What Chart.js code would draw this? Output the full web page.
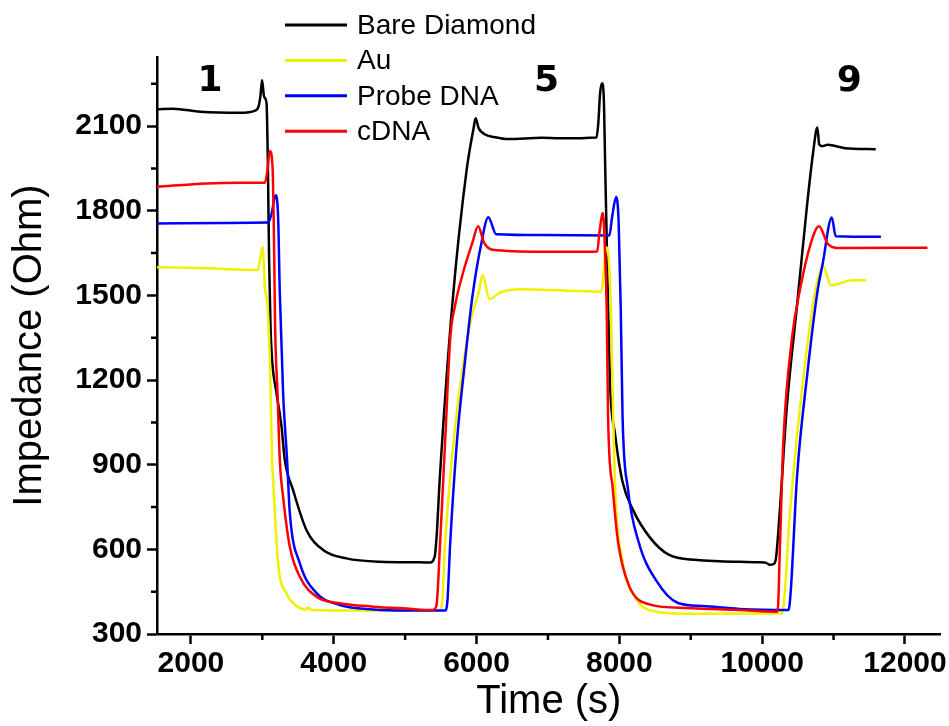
<!DOCTYPE html>
<html>
<head>
<meta charset="utf-8">
<script src="https://cdn.jsdelivr.net/npm/chart.js@4.4.1/dist/chart.umd.min.js"></script>
<style>
  html, body { margin: 0; padding: 0; background: #fff; }
  #wrap { width: 949px; height: 726px; }
</style>
</head>
<body>
<div id="wrap"><canvas id="impChart" width="949" height="726"></canvas></div>
<script>
// ========== DATA ==========

const xTicks = [2000, 4000, 6000, 8000, 10000, 12000];
const xMinorTicks = [3000, 5000, 7000, 9000, 11000];
const yTicks = [300, 600, 900, 1200, 1500, 1800, 2100];
const yMinorTicks = [450, 750, 1050, 1350, 1650, 1950, 2250];

const seriesNames = ['Bare Diamond', 'Au', 'Probe DNA', 'cDNA'];

// Bare Diamond
const bareX = [1525, 1750, 2130, 2690, 2900, 2950, 2975, 2997, 3025, 3059, 3077, 3095, 3115, 3137, 3199, 3269, 3315, 3431, 3619, 3851, 4178, 4644, 5204, 5344, 5414, 5442, 5484, 5666, 5861, 5959, 5987, 6029, 6113, 6253, 6440, 6916, 7162, 7680, 7705, 7730, 7757, 7782, 7802, 7833, 7868, 7942, 8042, 8192, 8441, 8691, 9091, 9401, 9960, 10058, 10104, 10160, 10194, 10247, 10344, 10488, 10632, 10716, 10772, 10800, 10847, 10919, 11158, 11590];
const bareY = [2160, 2162, 2151, 2147, 2155, 2172, 2210, 2263, 2204, 2181, 1979, 1625, 1389, 1271, 1153, 1035, 916, 810, 668, 598, 568, 556, 554, 553, 574, 650, 846, 1483, 1944, 2093, 2128, 2093, 2071, 2061, 2054, 2059, 2057, 2060, 2110, 2215, 2252, 2200, 1955, 1575, 1196, 1005, 842, 739, 638, 581, 562, 558, 554, 552, 545, 548, 570, 736, 1100, 1464, 1828, 2011, 2095, 2035, 2029, 2034, 2022, 2018];

// Au
const auX = [1525, 2126, 2937, 2965, 3003, 3035, 3077, 3105, 3137, 3151, 3221, 3339, 3479, 3619, 3641, 3689, 4550, 5460, 5512, 5561, 5680, 5798, 5917, 6036, 6085, 6179, 6345, 6631, 6916, 7746, 7780, 7812, 7843, 7882, 7903, 7942, 8042, 8239, 8542, 8939, 10270, 10300, 10391, 10583, 10751, 10858, 10963, 11261, 11453];
const auY = [1600, 1597, 1590, 1620, 1672, 1530, 1448, 1270, 916, 846, 551, 444, 399, 387, 394, 385, 383, 383, 400, 626, 987, 1228, 1409, 1517, 1572, 1487, 1512, 1522, 1520, 1513, 1580, 1672, 1650, 1448, 1196, 815, 562, 424, 378, 372, 373, 400, 736, 1221, 1526, 1601, 1536, 1554, 1554];

// Probe DNA
const probeX = [1525, 2500, 3081, 3130, 3185, 3221, 3245, 3291, 3347, 3385, 3525, 3759, 4085, 4550, 5018, 5560, 5590, 5632, 5727, 5822, 5941, 6060, 6165, 6274, 6916, 7860, 7900, 7955, 7990, 8020, 8045, 8120, 8270, 8520, 8820, 9170, 9680, 10370, 10400, 10488, 10632, 10774, 10847, 10975, 11030, 11663];
const probeY = [1755, 1757, 1758, 1790, 1855, 1779, 1508, 1154, 916, 729, 551, 445, 403, 387, 383, 383, 410, 626, 987, 1228, 1494, 1675, 1777, 1717, 1714, 1712, 1780, 1849, 1760, 1448, 1069, 815, 626, 488, 410, 399, 389, 385, 450, 857, 1221, 1513, 1611, 1776, 1710, 1708];

// cDNA
const cdnaX = [1525, 2220, 2700, 3035, 3070, 3105, 3143, 3161, 3179, 3213, 3245, 3291, 3385, 3525, 3759, 4085, 4550, 5018, 5390, 5438, 5489, 5561, 5632, 5703, 5822, 5941, 6022, 6107, 6225, 6916, 7500, 7690, 7720, 7770, 7800, 7823, 7842, 7908, 7982, 8131, 8431, 8929, 9680, 10216, 10250, 10296, 10415, 10534, 10679, 10795, 10919, 11062, 12315];
const cdnaY = [1885, 1897, 1899, 1899, 1940, 2012, 1956, 1743, 1389, 1154, 916, 786, 609, 503, 432, 409, 397, 390, 385, 400, 620, 987, 1349, 1469, 1590, 1686, 1745, 1686, 1662, 1655, 1655, 1656, 1720, 1792, 1650, 1448, 1069, 815, 626, 474, 404, 392, 385, 379, 620, 978, 1343, 1526, 1683, 1745, 1683, 1668, 1669];

// cycle numbers written above the plateaus
const cycleLabels = ['1', '5', '9'];
const cycleX = [2266, 6980, 11220];
const cycleY = [2259, 2259, 2259];

// ========== CHART ==========

function toPoints(xs, ys) {
    return xs.map((x, i) => ({ x: x, y: ys[i] }));
}

function lineSet(name, xs, ys, color, order) {
    return {
        label: name,
        data: toPoints(xs, ys),
        borderColor: color,
        backgroundColor: color,
        borderWidth: 2.5,
        pointRadius: 0,
        cubicInterpolationMode: 'monotone',
        borderJoinStyle: 'round',
        fill: false,
        order: order
    };
}

// minor ticks, cycle numbers and the legend that sits inside the plot
const decor = {
    id: 'decor',
    afterDraw(chart) {
        const ctx = chart.ctx;
        const xs = chart.scales.x, ys = chart.scales.y;
        const area = chart.chartArea;
        ctx.save();
        ctx.strokeStyle = '#000';
        ctx.lineWidth = 2.5;
        ctx.beginPath();
        xMinorTicks.forEach(v => {
            const px = xs.getPixelForValue(v);
            ctx.moveTo(px, area.bottom);
            ctx.lineTo(px, area.bottom + 6);
        });
        yMinorTicks.forEach(v => {
            const py = ys.getPixelForValue(v);
            ctx.moveTo(area.left, py);
            ctx.lineTo(area.left - 6, py);
        });
        ctx.stroke();

        ctx.fillStyle = '#000';
        ctx.font = 'bold 36px "DejaVu Sans"';
        ctx.textAlign = 'center';
        ctx.textBaseline = 'middle';
        cycleLabels.forEach((t, i) => {
            ctx.fillText(t, xs.getPixelForValue(cycleX[i]), ys.getPixelForValue(cycleY[i]));
        });

        ctx.font = '28px "Liberation Sans"';
        ctx.textAlign = 'left';
        chart.data.datasets.forEach((ds, i) => {
            const y = 25 + i * 35.4;
            ctx.strokeStyle = ds.borderColor;
            ctx.lineWidth = 3;
            ctx.beginPath();
            ctx.moveTo(285, y);
            ctx.lineTo(347, y);
            ctx.stroke();
            ctx.fillText(ds.label, 357, y + 1);
        });
        ctx.restore();
    }
};

const tickFont = { family: '"Liberation Sans", Arial, sans-serif', size: 30, weight: 'bold' };
const titleFont = { family: '"Liberation Sans", Arial, sans-serif', size: 40 };

const ctx1 = document.getElementById('impChart').getContext('2d');
const impChart = new Chart(ctx1, {
    type: 'line',
    data: {
        datasets: [
            lineSet(seriesNames[0], bareX, bareY, '#000000', 4),
            lineSet(seriesNames[1], auX, auY, '#f0f000', 3),
            lineSet(seriesNames[2], probeX, probeY, '#0000ff', 2),
            lineSet(seriesNames[3], cdnaX, cdnaY, '#ff0000', 1)
        ]
    },
    options: {
        responsive: false,
        animation: false,
        layout: { padding: { left: 6, top: 57, right: 7, bottom: 0 } },
        plugins: { legend: { display: false }, tooltip: { enabled: false } },
        scales: {
            x: {
                type: 'linear',
                min: 1525,
                max: 12500,
                afterBuildTicks: (s) => { s.ticks = xTicks.map(v => ({ value: v })); },
                afterFit: (s) => { s.height = 92; },
                grid: { drawOnChartArea: false, tickLength: 10, tickWidth: 2.5, tickColor: '#000' },
                border: { color: '#000', width: 2.5 },
                ticks: { font: tickFont, color: '#000', padding: 2, maxRotation: 0, callback: (v) => String(v) },
                title: { display: true, text: 'Time (s)', font: titleFont, color: '#000', padding: 0 }
            },
            y: {
                min: 300,
                max: 2345,
                afterBuildTicks: (s) => { s.ticks = yTicks.map(v => ({ value: v })); },
                afterFit: (s) => { s.width = 151; },
                grid: { drawOnChartArea: false, tickLength: 10, tickWidth: 2.5, tickColor: '#000' },
                border: { color: '#000', width: 2.5 },
                ticks: { font: tickFont, color: '#000', padding: 5, callback: (v) => String(v) },
                title: { display: true, text: 'Impedance (Ohm)', font: titleFont, color: '#000', padding: 0 }
            }
        }
    },
    plugins: [decor]
});
</script>
</body>
</html>
